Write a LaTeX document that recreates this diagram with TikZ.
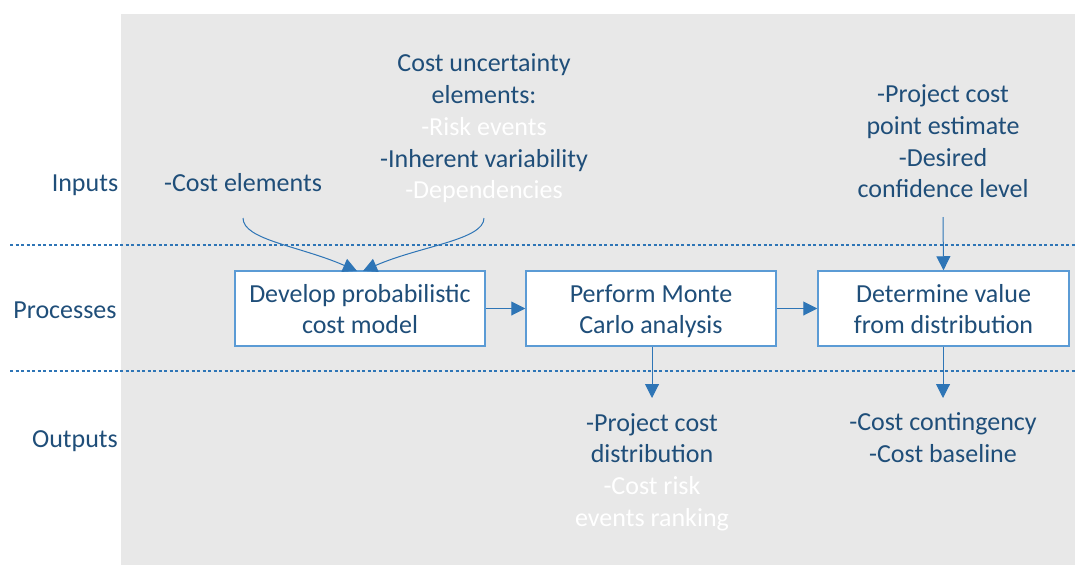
\documentclass[tikz,border=0pt]{standalone}
\usepackage{fontspec}
\setmainfont{Carlito}
\usetikzlibrary{arrows.meta}
\definecolor{txtblue}{HTML}{1F4E79}
\definecolor{boxblue}{HTML}{5B9BD5}
\definecolor{arrblue}{HTML}{2E75B6}
\definecolor{bggray}{HTML}{E8E8E8}
\newcommand{\topstrut}{\rule{0pt}{28.4pt}}
\tikzset{
  lbl/.style={font=\fontsize{26}{31.7}\selectfont, text=txtblue, align=center, inner sep=0pt},
  procbox/.style={draw=boxblue, line width=1.5pt, fill=white, minimum width=250pt, minimum height=75pt, inner sep=0pt, font=\fontsize{26}{31.7}\selectfont, text=txtblue, align=center},
  conn/.style={draw=arrblue, line width=1pt, -{Triangle[length=14pt,width=14pt]}},
  sep/.style={draw=arrblue, line width=1.6pt, dash pattern=on 3pt off 2.5pt}
}
\begin{document}
\begin{tikzpicture}[x=1pt,y=-1pt]
\useasboundingbox (0,0) rectangle (1075,565);
\fill[bggray] (121,14) rectangle (1075,565);
% separators
\coordinate (s1a) at (10,245); \coordinate (s1b) at (1075,245);
\coordinate (s2a) at (10,371); \coordinate (s2b) at (1075,371);
\draw[sep] (s1a) -- (s1b);
\draw[sep] (s2a) -- (s2b);
% row labels
\node[lbl] (inputs) at (85,185) {\strut Inputs};
\node[lbl] (processes) at (65,312) {\strut Processes};
\node[lbl] (outputs) at (75,441) {\strut Outputs};
% input texts
\node[lbl] (ce) at (243,185) {\strut -Cost elements};
\node[lbl] (cu) at (484,129) {\strut Cost uncertainty\\elements:\\\textcolor{white}{-Risk events}\\-Inherent variability\\\strut\textcolor{white}{-Dependencies}};
\node[lbl] (pe) at (943,144) {\strut -Project cost\\point estimate\\-Desired\\\strut confidence level};
% boxes
\node[procbox] (b1) at (360,308.5) {\topstrut Develop probabilistic\\\strut cost model};
\node[procbox] (b2) at (651,308.5) {\topstrut Perform Monte\\\strut Carlo analysis};
\node[procbox, minimum width=251pt] (b3) at (943.5,308.5) {\topstrut Determine value\\\strut from distribution};
% outputs
\node[lbl] (o1) at (652,472.5) {\strut -Project cost\\distribution\\\textcolor{white}{-Cost risk}\\\strut\textcolor{white}{events ranking}};
\node[lbl] (o2) at (943,440.5) {\strut -Cost contingency\\\strut -Cost baseline};
% connectors
\coordinate (ceS) at (243,218);
\coordinate (cuS) at (484,218);
\coordinate (peS) at (943,217);
\coordinate (b1L) at (357,271);
\coordinate (b1R) at (363,271);
\coordinate (o1N) at (652,398);
\coordinate (o2N) at (943,398);
\draw[conn] (ceS) .. controls (243,240) and (300,246) .. (b1L);
\draw[conn] (cuS) .. controls (484,240) and (420,246) .. (b1R);
\draw[conn] (b1.east) -- (b2.west);
\draw[conn] (b2.east) -- (b3.west);
\draw[conn] (peS) -- (b3.north);
\draw[conn] (b2.south -| o1N) -- (o1N);
\draw[conn] (b3.south -| o2N) -- (o2N);
\end{tikzpicture}
\end{document}
